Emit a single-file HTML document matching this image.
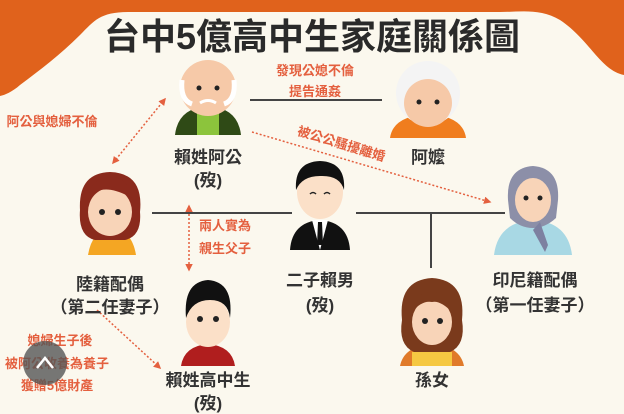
<!DOCTYPE html>
<html><head><meta charset="utf-8"><style>
body{margin:0;width:624px;height:414px;overflow:hidden;background:#fbf8ee}
svg{display:block}
.t{font-family:"Liberation Sans","Noto Sans CJK TC",sans-serif;font-weight:bold;fill:#333;font-size:17px;text-anchor:middle}
.r{font-family:"Liberation Sans","Noto Sans CJK TC",sans-serif;font-weight:bold;fill:#e4603f;font-size:13px;text-anchor:middle}
</style></head><body>
<svg width="624" height="414" viewBox="0 0 624 414" xmlns="http://www.w3.org/2000/svg">
<defs>
<marker id="a" viewBox="0 0 10 10" refX="8" refY="5" markerWidth="5" markerHeight="5" orient="auto-start-reverse"><path d="M0,0L10,5L0,10z" fill="#e4603f"/></marker>
</defs>
<rect width="624" height="414" fill="#fbf8ee"/>
<path d="M0,0H624V75C600,70 590,40 560,20C540,8 520,12 500,12H130C100,12 95,20 80,35C60,55 40,70 20,85C12,92 5,95 0,96Z" fill="#e0621c"/>
<text x="312" y="49" font-family="'Liberation Sans','Noto Sans CJK TC',sans-serif" font-weight="bold" font-size="36" text-anchor="middle" fill="#2a2a2a">台中5億高中生家庭關係圖</text>

<line x1="250" y1="100" x2="382" y2="100" stroke="#444" stroke-width="2"/>
<line x1="152" y1="213" x2="292" y2="213" stroke="#444" stroke-width="2"/>
<line x1="356" y1="213" x2="505" y2="213" stroke="#444" stroke-width="2"/>
<line x1="431" y1="213" x2="431" y2="268" stroke="#444" stroke-width="2"/>

<g stroke="#e4603f" stroke-width="1.5" stroke-dasharray="2,2" fill="none">
<line x1="165" y1="99" x2="113" y2="163" marker-start="url(#a)" marker-end="url(#a)"/>
<line x1="252" y1="132" x2="490" y2="202" marker-end="url(#a)"/>
<line x1="189" y1="206" x2="189" y2="270" marker-start="url(#a)" marker-end="url(#a)"/>
<line x1="97" y1="310" x2="160" y2="368" marker-end="url(#a)"/>
</g>

<text class="r" x="315" y="75">發現公媳不倫</text>
<text class="r" x="315" y="96">提告通姦</text>
<text class="r" x="52" y="126">阿公與媳婦不倫</text>
<text class="r" x="340" y="148" transform="rotate(17 340 148)">被公公騷擾離婚</text>
<text class="r" x="225" y="230">兩人實為</text>
<text class="r" x="225" y="253">親生父子</text>
<text class="r" x="60" y="345">媳婦生子後</text>
<text class="r" x="57" y="368">被阿公收養為養子</text>
<text class="r" x="57" y="390">獲贈5億財產</text>

<path d="M175,135Q178,108 208,106Q238,108 241,135Z" fill="#2f4a16"/>
<path d="M197,112H219V135H197Z" fill="#8cc43c"/>
<circle cx="208" cy="88" r="28" fill="#f6c9a8"/>
<path d="M182,80Q180,100 192,104M234,80Q236,100 224,104" stroke="#fff" stroke-width="5" fill="none"/>
<circle cx="199" cy="88" r="2.5" fill="#222"/><circle cx="217" cy="88" r="2.5" fill="#222"/>
<path d="M200,103Q208,98 216,103" stroke="#fff" stroke-width="3" fill="none"/>
<text class="t" x="208" y="163">賴姓阿公</text><text class="t" x="208" y="186">(歿)</text>

<path d="M390,138Q393,116 428,114Q463,116 466,138Z" fill="#f07d1e"/>
<circle cx="428" cy="93" r="32" fill="#f4f4f4"/>
<circle cx="428" cy="103" r="24" fill="#f6c9a8"/>
<circle cx="419" cy="102" r="2.5" fill="#222"/><circle cx="437" cy="102" r="2.5" fill="#222"/>
<text class="t" x="428" y="163">阿嬤</text>

<path d="M88,255Q92,230 112,228Q132,230 136,255Z" fill="#f4a623"/>
<path d="M80,210Q78,173 110,172Q144,173 140,212Q142,236 125,240H95Q78,236 80,210Z" fill="#8a2a1c"/>
<ellipse cx="110" cy="212" rx="22" ry="24" fill="#f8d4b8"/>
<path d="M88,200Q100,180 132,198Q128,178 110,176Q90,178 88,200Z" fill="#8a2a1c"/>
<circle cx="102" cy="212" r="3" fill="#222"/><circle cx="118" cy="212" r="3" fill="#222"/>
<text class="t" x="110" y="290">陸籍配偶</text><text class="t" x="110" y="313">（第二任妻子）</text>

<path d="M290,250Q292,222 320,220Q348,222 350,250Z" fill="#111"/>
<path d="M312,220L320,250L328,220Z" fill="#fff"/>
<path d="M318,222H322L323,245H317Z" fill="#111"/>
<ellipse cx="320" cy="192" rx="23" ry="27" fill="#fbe0c8"/>
<path d="M296,190Q294,162 320,161Q346,162 344,190Q340,175 320,176Q302,176 296,190Z" fill="#111"/>
<path d="M310,194Q313,191 316,194M324,194Q327,191 330,194" stroke="#222" stroke-width="1.5" fill="none"/>
<text class="t" x="320" y="286">二子賴男</text><text class="t" x="320" y="311">(歿)</text>

<path d="M494,255Q498,222 533,220Q568,222 572,255Z" fill="#a8d8e4"/>
<path d="M508,200Q506,168 533,166Q560,168 558,200L556,218Q545,228 533,228Q520,228 510,218Z" fill="#8c8fa8"/>
<ellipse cx="533" cy="200" rx="18" ry="22" fill="#f8d4b8"/>
<path d="M540,222L548,245L545,252L533,230Z" fill="#7d80a0"/>
<circle cx="526" cy="198" r="2.5" fill="#222"/><circle cx="540" cy="198" r="2.5" fill="#222"/>
<text class="t" x="535" y="286">印尼籍配偶</text><text class="t" x="535" y="311">（第一任妻子）</text>

<path d="M181,366Q184,346 208,344Q232,346 235,366Z" fill="#b01e1e"/>
<ellipse cx="208" cy="322" rx="22" ry="25" fill="#fbe0c8"/>
<path d="M186,318Q183,282 208,280Q234,282 230,318Q228,300 210,300Q192,300 186,318Z" fill="#111"/>
<circle cx="200" cy="319" r="3" fill="#222"/><circle cx="216" cy="319" r="3" fill="#222"/>
<text class="t" x="208" y="386">賴姓高中生</text><text class="t" x="208" y="409">(歿)</text>

<path d="M400,366Q404,346 432,344Q460,346 464,366Z" fill="#e07a2a"/>
<path d="M412,352H452V366H412Z" fill="#f5c842"/>
<path d="M402,320Q398,280 432,278Q466,280 462,320Q466,345 450,352H414Q398,345 402,320Z" fill="#7a3a1c"/>
<ellipse cx="432" cy="322" rx="20" ry="23" fill="#f8d4b8"/>
<path d="M412,312Q414,292 432,292Q450,292 452,312Q440,300 432,302Q422,300 412,312Z" fill="#7a3a1c"/>
<circle cx="425" cy="321" r="3" fill="#222"/><circle cx="440" cy="321" r="3" fill="#222"/>
<text class="t" x="432" y="386">孫女</text>

<circle cx="45" cy="363" r="22" fill="#555" opacity="0.8"/>
<path d="M37,368L45,358L53,368" stroke="#fff" stroke-width="2.5" fill="none"/>
</svg>
</body></html>
